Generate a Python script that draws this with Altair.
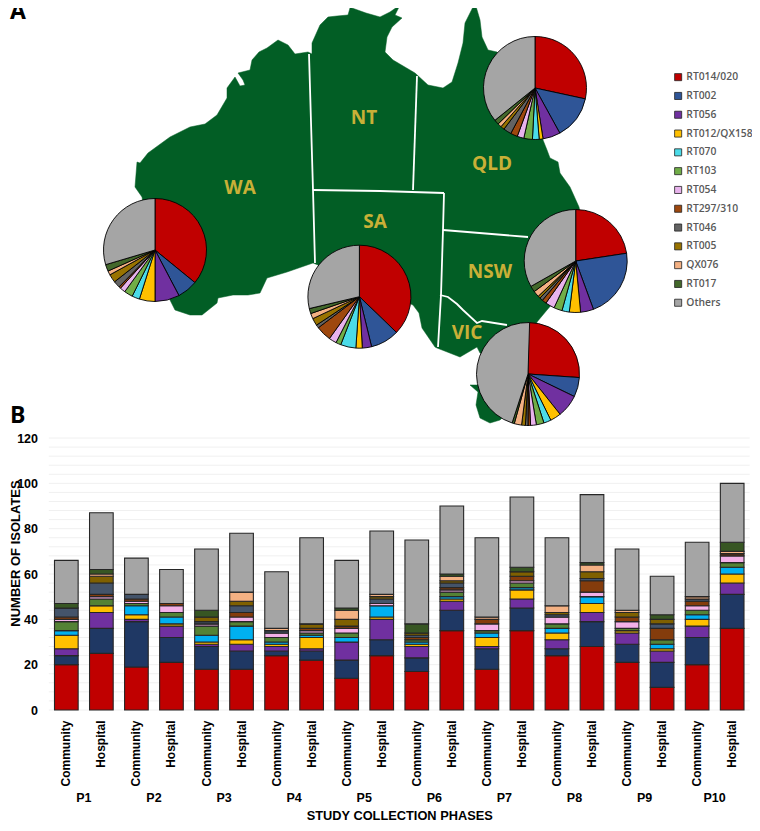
import altair as alt
import pandas as pd

# ---------- data ----------
RIBOTYPES = ["RT014/020", "RT002", "RT056", "RT012/QX158", "RT070", "RT103", "RT054",
             "RT297/310", "RT046", "RT005", "QX076", "RT017", "Others"]
PIE_COLORS = ["#c00000", "#2f5597", "#7030a0", "#ffc000", "#4bdbe8", "#70ad47", "#e8b3ec",
              "#9e480e", "#636363", "#997300", "#f4b183", "#43682b", "#a5a5a5"]
BAR_COLORS = ["#c00000", "#1f3864", "#7030a0", "#ffc000", "#00b0f0", "#548235", "#f4b1e8",
              "#843c0c", "#44546a", "#7f6000", "#f4b183", "#375623", "#a5a5a5"]

PIE_QLD = [28.4, 13.6, 5.5, 1.2, 2.1, 2.7, 2.1, 2.2, 2.5, 1.2, 1.2, 1.5, 35.8]
PIE_NSW = [22.6, 21.8, 4.1, 3.5, 2.3, 2.6, 2.9, 1.4, 1.0, 0.8, 1.9, 1.9, 33.2]
PIE_VIC = [26.1, 6.1, 7.1, 3.4, 2.3, 2.4, 1.8, 0.8, 0.8, 1.2, 2.3, 0.7, 45.5]
PIE_WA = [35.9, 6.4, 7.7, 4.9, 2.4, 2.7, 1.7, 0.6, 2.1, 2.6, 1.3, 2.1, 29.6]
PIE_SA = [37.2, 9.0, 2.9, 2.0, 4.8, 1.6, 2.4, 4.8, 1.0, 2.3, 1.7, 1.6, 28.7]

PHASES = ["P1", "P2", "P3", "P4", "P5", "P6", "P7", "P8", "P9", "P10"]
SETTINGS = ["Community", "Hospital"]
BARS = [
    [20, 4, 3, 6, 2, 4, 1, 1, 4, 0, 0, 2, 19],
    [25, 11, 7, 3, 0, 3, 1, 1, 5, 3, 1, 2, 25],
    [19, 20, 1, 2, 4, 1, 1, 1, 2, 0, 0, 0, 16],
    [21, 11, 5, 1, 3, 2, 3, 1, 0, 0, 0, 0, 15],
    [18, 10, 1, 1, 3, 4, 1, 0, 1, 2, 0, 3, 27],
    [18, 8, 3, 2, 6, 2, 2, 2, 3, 2, 4, 0, 26],
    [24, 2, 2, 1, 1, 2, 2, 0, 1, 0, 1, 0, 25],
    [22, 4, 1, 5, 1, 1, 1, 1, 0, 2, 0, 0, 38],
    [14, 8, 8, 0, 2, 2, 2, 1, 0, 3, 4, 1, 21],
    [24, 7, 9, 1, 5, 0, 1, 0, 2, 1, 1, 0, 28],
    [17, 6, 5, 1, 1, 1, 0, 1, 1, 1, 0, 4, 37],
    [35, 9, 4, 1, 1, 2, 1, 1, 2, 1, 2, 1, 30],
    [18, 9, 1, 4, 2, 1, 3, 2, 0, 0, 1, 0, 35],
    [35, 10, 4, 4, 1, 2, 1, 2, 0, 2, 0, 2, 31],
    [24, 3, 4, 3, 2, 2, 3, 0, 1, 1, 3, 0, 30],
    [28, 11, 4, 4, 3, 0, 2, 5, 1, 3, 3, 1, 30],
    [21, 8, 5, 1, 0, 1, 3, 2, 0, 2, 1, 0, 27],
    [10, 11, 5, 1, 2, 2, 0, 5, 2, 2, 0, 2, 17],
    [20, 12, 5, 3, 2, 2, 2, 2, 1, 0, 1, 0, 24],
    [36, 15, 5, 4, 3, 2, 3, 1, 0, 0, 1, 4, 26],
]

# Map outline (picture pixels)
MAINLAND = [(308, 52), (312, 54), (312, 43), (320, 25), (328, 17), (337, 16), (348, 15), (350, 8),
            (343, 3), (352, 8), (366, 13), (380, 17), (390, 12), (400, 5), (395, 15), (402, 18),
            (392, 27), (387, 37), (385, 52), (393, 60), (415, 73), (428, 85), (443, 88), (452, 82),
            (458, 63), (463, 43), (465, 23), (475, 3), (480, 20), (482, 37), (488, 50), (497, 52),
            (530, 100), (543, 140), (547, 150), (550, 158), (558, 162), (560, 173), (570, 187),
            (579, 207), (590, 260), (547, 310), (537, 322), (520, 370), (480, 353), (477, 347),
            (460, 357), (437, 348), (435, 347), (422, 328), (419, 313), (413, 305), (380, 290),
            (313, 263), (287, 272), (267, 278), (260, 293), (248, 295), (233, 295), (218, 298),
            (217, 303), (202, 315), (190, 315), (175, 310), (170, 300), (150, 240), (142, 197),
            (135, 187), (137, 162), (140, 163), (148, 153), (170, 137), (190, 127), (205, 124),
            (217, 115), (227, 98), (227, 88), (235, 77), (240, 86), (245, 85), (243, 80),
            (238, 73), (250, 70), (252, 60), (259, 52), (267, 48), (278, 40), (288, 45), (295, 54)]
TASMANIA = [(470, 385), (478, 392), (476, 405), (480, 418), (490, 423), (500, 420), (520, 400), (500, 385)]
BORDERS = [
    [(309, 54), (313, 190), (315, 263)],
    [(313, 190), (380, 191), (444, 193)],
    [(417, 76), (413, 190)],
    [(444, 193), (443, 230), (441, 295), (438, 347)],
    [(443, 230), (528, 237)],
    [(440, 295), (448, 297), (457, 304), (463, 310), (477, 323), (482, 321), (507, 325)],
]
STATES = ["WA", "NT", "SA", "QLD", "NSW", "VIC"]

# ---------- layout (page pixels of the reference) ----------
W, H = 744, 815
OX, OY = 8, 8
def px(x): return x - OX
def py(y): return y - OY

PLOT_L, PLOT_R = 48.8, 749.7
Y0, Y120 = 710, 438
PIE_R = 51.5
PIE_POS = {"QLD": (535, 88), "NSW": (575.7, 261), "VIC": (528, 374), "WA": (155, 250), "SA": (359.4, 296.7)}
STATE_POS = {"WA": (240, 188), "NT": (364, 118), "SA": (375, 222), "QLD": (492, 164), "NSW": (490, 272), "VIC": (467, 333)}
SANS = "Liberation Sans"
GOLD = "#c9b037"

PROJ = dict(type="identity", scale=1, translate=[-OX, -OY], reflectY=False)

def poly(points):
    pts = [list(p) for p in points]
    if pts[0] != pts[-1]:
        pts = pts + [pts[0]]
    return {"type": "Feature", "properties": {}, "geometry": {"type": "Polygon", "coordinates": [pts]}}

def line(points):
    return {"type": "Feature", "properties": {}, "geometry": {"type": "LineString", "coordinates": [list(p) for p in points]}}

land = alt.Chart(alt.Data(values=[poly(MAINLAND), poly(TASMANIA)])).mark_geoshape(
    fill="#025e25", stroke="#025e25", strokeWidth=0.5).project(**PROJ)
borders = alt.Chart(alt.Data(values=[line(b) for b in BORDERS])).mark_geoshape(
    filled=False, stroke="white", strokeWidth=1.8).project(**PROJ)

def state_text(name):
    x, y = STATE_POS[name]
    return alt.Chart(pd.DataFrame({"t": [name]})).mark_text(
        font="Open Sans", fontWeight="bold", fontSize=19, color=GOLD, baseline="middle", align="center"
    ).encode(text="t:N", x=alt.value(px(x)), y=alt.value(py(y)))

def panel_text(s, x, y):
    return alt.Chart(pd.DataFrame({"t": [s]})).mark_text(
        font="Open Sans", fontWeight="bold", fontSize=23, color="black", baseline="middle", align="left"
    ).encode(text="t:N", x=alt.value(px(x)), y=alt.value(py(y)))

def pie(name, values, show_legend=False):
    df = pd.DataFrame({"rt": RIBOTYPES, "v": values, "i": range(len(values))})
    legend = None
    if show_legend:
        legend = alt.Legend(orient="none", legendX=px(673), legendY=py(72), title=None,
                            symbolType="square", symbolSize=50, symbolStrokeColor="#222222",
                            symbolStrokeWidth=0.8, symbolOpacity=1, labelFont="Open Sans", labelFontSize=10.3,
                            labelFontWeight=600, labelColor="#595959", rowPadding=7.8, labelOffset=3,
                            labelLimit=120, padding=0)
    cx, cy = PIE_POS[name]
    return alt.Chart(df).mark_arc(radius=PIE_R, stroke="black", strokeWidth=0.9).encode(
        theta=alt.Theta("v:Q", stack=True, scale=alt.Scale(domain=[0, 100])),
        color=alt.Color("rt:N", scale=alt.Scale(domain=RIBOTYPES, range=PIE_COLORS), legend=legend),
        order=alt.Order("i:Q"),
        x=alt.value(px(cx)), y=alt.value(py(cy)),
    )

# ---------- bars ----------
cats = [f"{p} {s}" for p in PHASES for s in SETTINGS]
rows = []
for c, vals in zip(cats, BARS):
    for i, (rt, v) in enumerate(zip(RIBOTYPES, vals)):
        rows.append({"cat": c, "rt": rt, "v": v, "i": i})
bars_df = pd.DataFrame(rows)
y_scale = alt.Scale(domain=[0, 120], range=[py(Y0), py(Y120)], nice=False, zero=True)
x_scale = alt.Scale(domain=cats, range=[px(PLOT_L), px(PLOT_R)], paddingInner=0.325, paddingOuter=0.1625)
phase_scale = alt.Scale(domain=PHASES, range=[px(PLOT_L), px(PLOT_R)], paddingInner=0, paddingOuter=0)

grid = alt.Chart(pd.DataFrame({"g": list(range(0, 121, 4))})).mark_rule(color="#f0f0f0", strokeWidth=1).encode(
    y=alt.Y("g:Q", scale=y_scale, axis=None),
    x=alt.value(px(PLOT_L)), x2=alt.value(px(PLOT_R)),
)
bars = alt.Chart(bars_df).mark_bar(stroke="#262626", strokeWidth=1.1).encode(
    x=alt.X("cat:N", scale=x_scale, sort=cats, axis=alt.Axis(
        title=None, orient="bottom", offset=-(H - py(Y0)), labelExpr="split(datum.value, ' ')[1]",
        labelAngle=-90, labelAlign="right", labelBaseline="middle", labelFont=SANS, labelFontSize=12, labelFontWeight="bold",
        labelColor="black", labelPadding=10, labelLimit=100, ticks=False, domain=False, grid=False, labelOverlap=False)),
    y=alt.Y("sum(v):Q", stack="zero", scale=y_scale, axis=alt.Axis(
        values=[0, 20, 40, 60, 80, 100, 120], title="NUMBER OF ISOLATES", orient="left", offset=-32,
        labelFont=SANS, labelFontSize=12.5, labelFontWeight="bold", labelColor="black", labelPadding=2.5,
        ticks=False, domain=False, grid=False, titleFont=SANS, titleFontSize=13, titleFontWeight="bold",
        titleColor="black", titleX=-(32 - 7), titleY=py(553), titleAngle=-90, titleBaseline="middle", titleAlign="center")),
    color=alt.Color("rt:N", scale=alt.Scale(domain=RIBOTYPES, range=BAR_COLORS), legend=None),
    order=alt.Order("i:Q"),
)
phases = alt.Chart(pd.DataFrame({"p": PHASES})).mark_rule(opacity=0).encode(
    x=alt.X("p:N", scale=phase_scale, sort=PHASES, axis=alt.Axis(
        title="STUDY COLLECTION PHASES", orient="bottom", offset=-(H - py(Y0)), labelAngle=0, labelFont=SANS,
        labelFontSize=12.5, labelFontWeight="bold", labelColor="black", labelPadding=87, ticks=False, domain=False,
        grid=False, titleFont=SANS, titleFontSize=12.8, titleFontWeight="bold", titleColor="black", titlePadding=6,
        labelBaseline="middle", labelOverlap=False)),
)

layers = [land, borders] + [state_text(s) for s in STATES] + [
    pie("WA", PIE_WA), pie("SA", PIE_SA), pie("QLD", PIE_QLD, True), pie("NSW", PIE_NSW), pie("VIC", PIE_VIC),
    panel_text("A", 10, 12), panel_text("B", 10, 416),
    grid, bars, phases,
]

chart = alt.layer(*layers).resolve_scale(x="independent", y="independent", color="independent", theta="independent").properties(
    width=W, height=H, padding=0, autosize=alt.AutoSizeParams(type="none"), background="white"
).configure_view(stroke=None)

chart.save("out.html", embed_options={"renderer": "svg", "actions": False})
